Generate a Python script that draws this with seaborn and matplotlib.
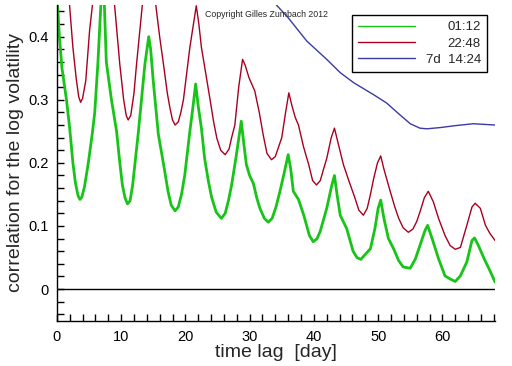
import numpy as np
import pandas as pd
import seaborn as sns
import matplotlib
matplotlib.use("Agg")
import matplotlib.pyplot as plt
from matplotlib.ticker import MultipleLocator
from matplotlib.lines import Line2D

# --- data (lag in days, correlation) ---
lag_0112 = [0.0, 0.4, 0.8, 1.5, 2.0, 2.5, 2.9, 3.3, 3.6, 3.9, 4.3, 4.9, 5.5, 5.9, 6.4, 6.8, 7.0, 7.3,
            7.7, 8.5, 9.3, 9.8, 10.2, 10.6, 11.0, 11.4, 11.8, 12.7, 13.7, 14.3,
            14.6, 15.0, 15.8, 16.4, 16.8, 17.3, 17.8, 18.4, 18.9, 19.4, 19.9, 20.7, 21.2, 21.6,
            22.0, 22.5, 23.0, 23.6, 24.1, 24.8, 25.6, 26.2, 26.7, 27.2, 27.9, 28.7,
            29.1, 29.5, 30.0, 30.6, 31.1, 31.6, 32.3, 32.9, 33.5, 34.1, 34.7, 35.4, 36.0,
            36.4, 36.8, 37.6, 38.4, 39.3, 39.9, 40.5, 41.0, 42.0, 42.8, 43.2,
            43.6, 44.1, 45.1, 46.1, 46.7, 47.3, 48.0, 48.8, 49.5, 50.0, 50.4,
            50.9, 51.6, 52.4, 53.2, 53.9, 55.0, 55.8, 56.5, 57.3, 57.7,
            58.4, 59.4, 60.4, 61.2, 62.0, 62.8, 63.8, 64.6, 65.0, 65.6, 66.5, 67.4, 68.2]
corr_0112 = [0.47, 0.40, 0.35, 0.30, 0.255, 0.20, 0.168, 0.148, 0.142, 0.146, 0.162, 0.20, 0.245, 0.28, 0.36, 0.44, 0.48, 0.48,
             0.36, 0.30, 0.25, 0.20, 0.165, 0.145, 0.135, 0.14, 0.165, 0.25, 0.356, 0.40,
             0.38, 0.33, 0.245, 0.21, 0.186, 0.155, 0.133, 0.124, 0.13, 0.15, 0.18, 0.25, 0.29, 0.325,
             0.29, 0.255, 0.207, 0.17, 0.145, 0.122, 0.112, 0.12, 0.14, 0.165, 0.21, 0.266,
             0.23, 0.197, 0.18, 0.167, 0.145, 0.128, 0.112, 0.106, 0.112, 0.13, 0.154, 0.185, 0.213,
             0.19, 0.155, 0.142, 0.118, 0.085, 0.075, 0.08, 0.092, 0.128, 0.165, 0.18,
             0.15, 0.117, 0.096, 0.06, 0.05, 0.047, 0.055, 0.064, 0.096, 0.128, 0.141,
             0.112, 0.08, 0.064, 0.045, 0.035, 0.033, 0.048, 0.069, 0.093, 0.101,
             0.08, 0.048, 0.021, 0.016, 0.012, 0.021, 0.043, 0.077, 0.081, 0.069, 0.048, 0.029, 0.011]

lag_2248 = [0.0, 1.0, 1.9, 2.5, 3.0, 3.4, 3.7, 4.0, 4.5, 5.1, 5.65, 7.0,
            8.9, 9.8, 10.4, 10.8, 11.1, 11.5, 12.0, 12.4, 13.4, 14.3,
            15.4, 16.0, 16.6, 17.2, 17.6, 18.0, 18.4, 18.9, 19.3, 19.7, 20.7, 21.7,
            22.1, 22.5, 23.2, 23.8, 24.4, 24.9, 25.5, 26.2, 26.8, 27.2, 27.7, 28.3, 28.9,
            29.3, 29.9, 30.8, 31.5, 32.1, 32.7, 33.4, 34.0, 34.5, 35.0, 35.6, 36.1,
            36.6, 37.1, 37.6, 38.4, 39.2, 39.8, 40.4, 41.0, 41.5, 42.0, 42.7, 43.2,
            43.8, 44.6, 45.5, 46.4, 47.0, 47.7, 48.3, 48.8, 49.3, 49.9, 50.4,
            50.9, 51.9, 52.6, 53.2, 53.9, 54.7, 55.4, 56.0, 56.5, 57.2, 57.8,
            58.6, 59.4, 60.4, 61.2, 62.0, 62.8, 63.8, 64.6, 65.1, 65.9, 66.7, 67.4, 68.2]
corr_2248 = [0.62, 0.53, 0.46, 0.383, 0.335, 0.305, 0.296, 0.302, 0.33, 0.41, 0.46, 0.58,
             0.46, 0.356, 0.30, 0.275, 0.268, 0.275, 0.31, 0.356, 0.46, 0.53,
             0.45, 0.40, 0.356, 0.31, 0.287, 0.268, 0.26, 0.265, 0.28, 0.30, 0.383, 0.449,
             0.42, 0.383, 0.34, 0.303, 0.265, 0.239, 0.22, 0.213, 0.222, 0.24, 0.26, 0.32, 0.364,
             0.355, 0.335, 0.314, 0.28, 0.245, 0.215, 0.205, 0.21, 0.225, 0.24, 0.28, 0.311,
             0.29, 0.272, 0.26, 0.225, 0.197, 0.172, 0.165, 0.172, 0.19, 0.207, 0.24, 0.255,
             0.23, 0.197, 0.17, 0.144, 0.125, 0.117, 0.128, 0.15, 0.175, 0.20, 0.211,
             0.19, 0.154, 0.13, 0.112, 0.097, 0.09, 0.095, 0.107, 0.122, 0.145, 0.155,
             0.138, 0.112, 0.085, 0.069, 0.063, 0.066, 0.101, 0.13, 0.136, 0.128, 0.101, 0.088, 0.077]

lag_7d = [33.0, 34.1, 36.0, 38.9, 42.0, 44.1, 46.2, 49.3, 51.3, 53.4,
          55.0, 56.5, 57.6, 59.7, 62.0, 64.8, 68.2]
corr_7d = [0.47, 0.451, 0.43, 0.393, 0.364, 0.343, 0.327, 0.308, 0.295, 0.276,
           0.262, 0.255, 0.254, 0.256, 0.259, 0.262, 0.260]

series_labels = ["01:12", "22:48", "7d  14:24"]
colors = ["#18c418", "#a80020", "#3a3aa8"]
widths = [2.0, 1.0, 1.0]

df = pd.concat([
    pd.DataFrame({"lag": lag_0112, "corr": corr_0112, "series": series_labels[0]}),
    pd.DataFrame({"lag": lag_2248, "corr": corr_2248, "series": series_labels[1]}),
    pd.DataFrame({"lag": lag_7d, "corr": corr_7d, "series": series_labels[2]}),
], ignore_index=True)

sns.set_style("ticks")
plt.rcParams["font.family"] = ["Liberation Sans", "DejaVu Sans"]

fig = plt.figure(figsize=(5.12, 3.66), dpi=100)
ax = fig.add_axes([0.111, 0.124, 0.856, 0.862])

for lab, col, lw in zip(series_labels, colors, widths):
    sub = df[df["series"] == lab]
    sns.lineplot(data=sub, x="lag", y="corr", ax=ax, color=col, linewidth=lw,
                 sort=False, estimator=None, legend=False)

ax.axhline(0, color="black", linewidth=1.0)

ax.set_xlim(0, 68.2)
ax.set_ylim(-0.05, 0.45)
ax.xaxis.set_major_locator(MultipleLocator(10))
ax.xaxis.set_minor_locator(MultipleLocator(2))
ax.yaxis.set_major_locator(MultipleLocator(0.1))
ax.yaxis.set_minor_locator(MultipleLocator(0.02))
ax.set_yticklabels([f"{v:g}" if abs(v) > 1e-9 else "0" for v in ax.get_yticks()])
ax.tick_params(which="both", direction="in", length=5, width=1, color="black",
               labelsize=10.5, labelcolor="black")
ax.tick_params(axis="x", pad=7)
ax.tick_params(axis="y", pad=6)

for s in ["top", "right"]:
    ax.spines[s].set_visible(False)
for s in ["left", "bottom"]:
    ax.spines[s].set_color("black")
    ax.spines[s].set_linewidth(1.0)

ax.set_xlabel("time lag  [day]", fontsize=14, labelpad=0)
ax.set_ylabel("correlation for the log volatility", fontsize=14, labelpad=3)

ax.text(0.338, 0.97, "Copyright Gilles Zumbach 2012", transform=ax.transAxes,
        fontsize=6.3, ha="left", va="center")

handles = [Line2D([], [], color=c, linewidth=1.0) for c in colors]
leg = ax.legend(handles, series_labels, loc="upper right",
                bbox_to_anchor=(0.981, 0.968), frameon=True, fancybox=False,
                edgecolor="black", framealpha=1, fontsize=9.5,
                handlelength=4.3, handletextpad=0.8, borderpad=0.45,
                labelspacing=0.3, borderaxespad=0)
leg.get_frame().set_linewidth(1.0)

# right-align the legend labels: stretch every row to the widest one
fig.canvas.draw()
renderer = fig.canvas.get_renderer()
rows = [r for col in leg._legend_handle_box.get_children() for r in col.get_children()]
row_w = max(r.get_bbox(renderer).width for r in rows)
for r in rows:
    r.mode = "expand"
    r.width = row_w

fig.savefig("out.png", dpi=100)
